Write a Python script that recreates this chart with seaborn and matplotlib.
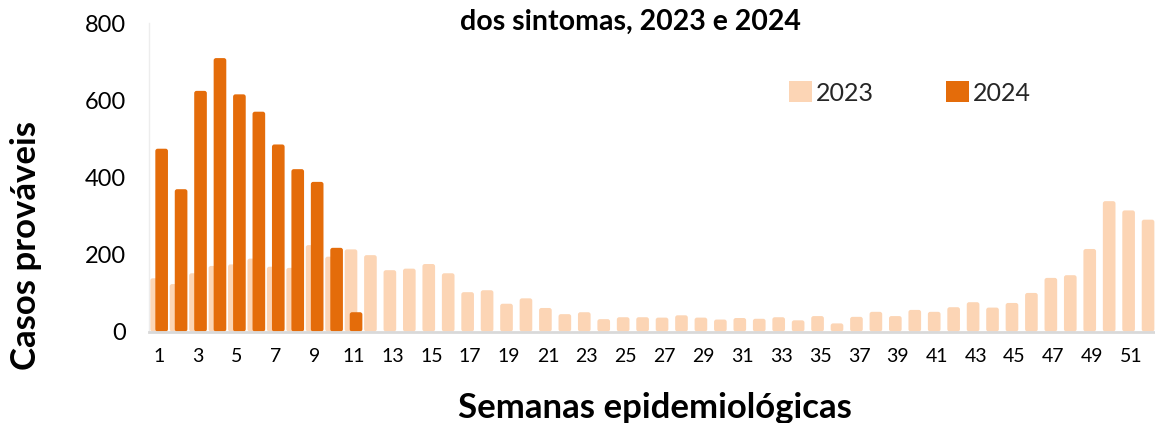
import matplotlib
matplotlib.use("Agg")
import matplotlib.pyplot as plt
import seaborn as sns
from matplotlib.patches import FancyBboxPatch, Patch

# ---- data ----
weeks = [str(i) for i in range(1, 53)]
cases_2023 = [138, 123, 151, 170, 174, 189, 168, 165, 224, 194,
              213, 198, 159, 163, 175, 151, 102, 107, 72, 86,
              61, 45, 50, 32, 37, 37, 36, 42, 36, 31,
              35, 33, 37, 29, 40, 21, 38, 51, 40, 56,
              51, 63, 76, 62, 74, 100, 139, 146, 214, 338,
              314, 290]
weeks_2024 = weeks[:11]
cases_2024 = [474, 369, 624, 709, 615, 570, 485, 421, 388, 217, 50]
series_labels = ["2023", "2024"]
y_ticks = [0, 200, 400, 600, 800]
title_text = "dos sintomas, 2023 e 2024"
ylabel_text = "Casos prováveis"
xlabel_text = "Semanas epidemiológicas"

# ---- style ----
sns.set_theme(style="white")
plt.rcParams['font.family'] = ['Lato', 'DejaVu Sans']
c23 = "#FCD5B5"
c24 = "#E46C0A"

W, H = 1155, 423
fig = plt.figure(figsize=(W / 100, H / 100), dpi=100)
ax_left, ax_right, ax_top, ax_bottom = 149.4, 1160.3, 23.0, 331.5
ax = fig.add_axes([ax_left / W, 1 - ax_bottom / H,
                   (ax_right - ax_left) / W, (ax_bottom - ax_top) / H])

sns.barplot(x=weeks, y=cases_2023, order=weeks, color=c23, width=0.65,
            saturation=1, ax=ax)
n23 = len(ax.patches)
sns.barplot(x=weeks_2024, y=cases_2024, order=weeks, color=c24, width=0.65,
            saturation=1, ax=ax)

ax.set_xlim(-0.5, len(weeks) - 0.5)
ax.set_ylim(y_ticks[0], y_ticks[-1])

# overlap offset + rounded tops (as in the original Excel chart)
px_per_x = (ax_right - ax_left) / len(weeks)
px_per_y = (ax_bottom - ax_top) / (y_ticks[-1] - y_ticks[0])
aspect = px_per_x / px_per_y
offset = 0.13
old = list(ax.patches)
for i, p in enumerate(old):
    shift = -offset if i < n23 else offset
    x, y, w, h = p.get_x() + shift, p.get_y(), p.get_width(), p.get_height()
    fc = p.get_facecolor()
    p.remove()
    nb = FancyBboxPatch((x, y), w, h,
                        boxstyle="round,pad=0,rounding_size=0.12",
                        mutation_aspect=aspect, fc=fc, ec="none", zorder=1)
    ax.add_patch(nb)

ax.set_yticks(y_ticks)
ax.set_yticklabels([str(v) for v in y_ticks])
ax.set_xticks(list(range(0, len(weeks), 2)))
ax.set_xticklabels(weeks[::2])
ax.tick_params(axis='y', length=0, pad=17, labelsize=17, labelcolor="black")
ax.tick_params(axis='x', length=0, pad=12, labelsize=14, labelcolor="black")
ax.set_xlabel("")
ax.set_ylabel("")
for s in ["top", "right"]:
    ax.spines[s].set_visible(False)
ax.spines["left"].set_color("#EDEDED")
ax.spines["left"].set_linewidth(1)
ax.spines["bottom"].set_color("#D9D9D9")
ax.spines["bottom"].set_linewidth(2)
ax.grid(False)

fig.text(630 / W, 1 - 30 / H, title_text, ha="center", va="baseline",
         fontsize=20.5, fontweight="bold", color="black")
fig.text(26 / W, 1 - 246 / H, ylabel_text, ha="center", va="center",
         rotation=90, fontsize=25, fontweight="bold", color="black")
fig.text(655 / W, 1 - 418 / H, xlabel_text, ha="center", va="baseline",
         fontsize=25, fontweight="bold", color="black")

handles = [Patch(facecolor=c23, edgecolor="none"),
           Patch(facecolor=c24, edgecolor="none")]
fig.legend(handles, series_labels, loc="center",
           bbox_to_anchor=(910 / W, 1 - 93 / H), ncol=2, frameon=False,
           fontsize=18, handlelength=0.92, handleheight=0.92,
           handletextpad=0.16, columnspacing=2.9, borderpad=0)

fig.savefig("out.png", dpi=100)
